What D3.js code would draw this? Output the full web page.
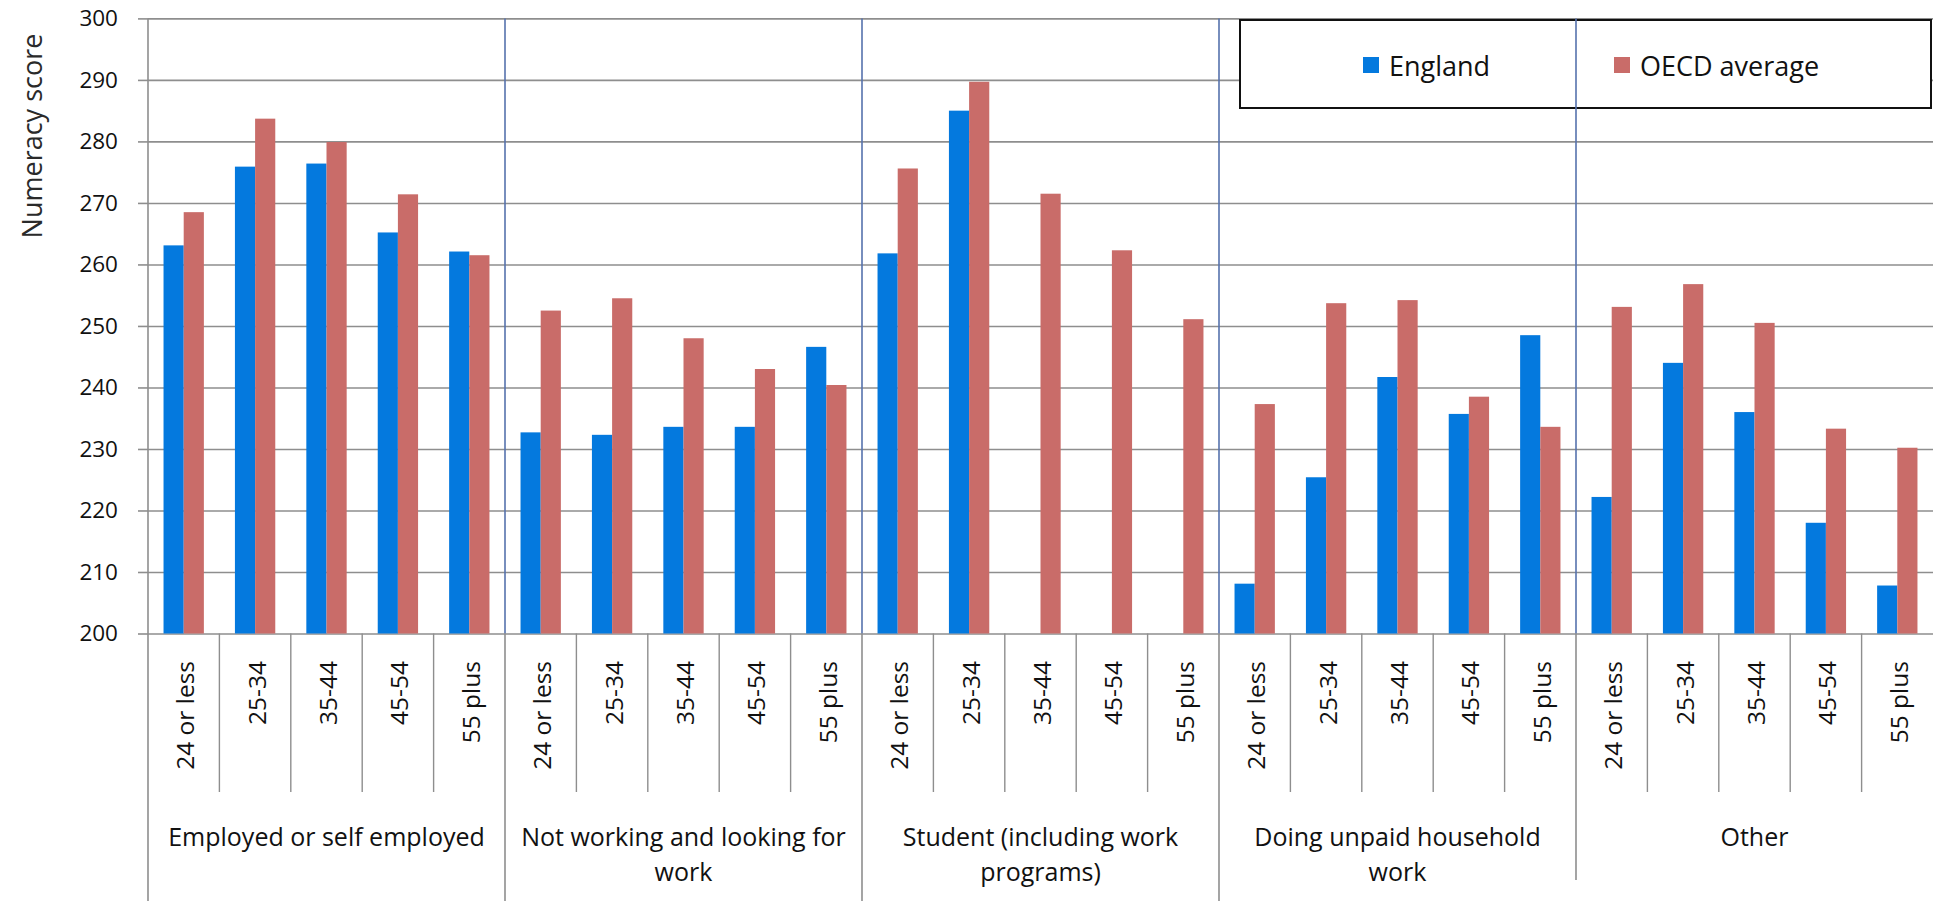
<!DOCTYPE html>
<html>
<head>
<meta charset="utf-8">
<script src="https://cdn.jsdelivr.net/npm/d3@7/dist/d3.min.js"></script>
<style>
  html, body { margin: 0; padding: 0; background: #ffffff; }
  svg { display: block; font-family: "Open Sans", "Noto Sans", sans-serif; }
</style>
</head>
<body>
<svg id="chart" width="1933" height="901"></svg>
<script>
// Employment status groups (label lines as wrapped under the axis)
const groupLines = [
  ["Employed or self employed"],
  ["Not working and looking for", "work"],
  ["Student (including work", "programs)"],
  ["Doing unpaid household", "work"],
  ["Other"]
];
const ageBands = ["24 or less", "25-34", "35-44", "45-54", "55 plus"];
const seriesNames = ["England", "OECD average"];

// Mean numeracy score, in group order then age band order
const england = [
  263.1, 275.9, 276.4, 265.2, 262.1,
  232.7, 232.3, 233.6, 233.6, 246.6,
  261.8, 285.0, null, null, null,
  208.1, 225.4, 241.7, 235.7, 248.5,
  222.2, 244.0, 236.0, 218.0, 207.8
];
const oecdAverage = [
  268.5, 283.7, 279.9, 271.4, 261.5,
  252.5, 254.5, 248.0, 243.0, 240.4,
  275.6, 289.7, 271.5, 262.3, 251.1,
  237.3, 253.7, 254.2, 238.5, 233.6,
  253.1, 256.8, 250.5, 233.3, 230.2
];
const yTicks = [200, 210, 220, 230, 240, 250, 260, 270, 280, 290, 300];
const yTitle = "Numeracy score";

const colors = { "England": "#0479DE", "OECD average": "#C96C69" };
const gridColor = "#8e8e8e";
const sepColor = "#5672ad";
const textColor = "#111111";

const svg = d3.select("#chart");
const W = 1933, H = 901;
const plotLeft = 148, plotRight = 1933, plotTop = 18.4, plotBottom = 633.5;

// Flatten into one row per age band within a group
const rows = [];
groupLines.forEach((g, gi) => {
  ageBands.forEach((a, ai) => {
    const i = gi * ageBands.length + ai;
    rows.push({ key: gi + "|" + a, group: gi, age: a,
      values: [ { s: "England", v: england[i] }, { s: "OECD average", v: oecdAverage[i] } ] });
  });
});

const x0 = d3.scaleBand().domain(rows.map(r => r.key)).range([plotLeft, plotRight]).padding(0);
const x1 = d3.scaleBand().domain(seriesNames).range([0, x0.bandwidth()])
  .paddingInner(0).paddingOuter(0.77);
const y = d3.scaleLinear().domain([200, 300]).range([plotBottom, plotTop]);

// Horizontal gridlines
svg.append("g")
  .attr("transform", `translate(${plotLeft},0)`)
  .call(d3.axisLeft(y).tickValues(yTicks).tickSize(-(plotRight - plotLeft)).tickFormat(""))
  .call(g => g.select(".domain").remove())
  .call(g => g.selectAll(".tick line").attr("stroke", gridColor).attr("stroke-width", 1.6));

// Y axis ticks and labels
svg.append("g")
  .attr("transform", `translate(${plotLeft},0)`)
  .call(d3.axisLeft(y).tickValues(yTicks).tickSize(10).tickPadding(20).tickFormat(d3.format("d")))
  .call(g => g.select(".domain").remove())
  .call(g => g.selectAll(".tick line").attr("stroke", gridColor).attr("stroke-width", 1.6))
  .call(g => g.selectAll(".tick text")
    .attr("fill", textColor)
    .style("font-size", "22.5px")
    .style("font-family", "'Open Sans', sans-serif"));

// Y axis line running down through the category label area
svg.append("line")
  .attr("x1", plotLeft).attr("x2", plotLeft).attr("y1", plotTop).attr("y2", H)
  .attr("stroke", gridColor).attr("stroke-width", 1.6);

// Y axis title
svg.append("text")
  .attr("transform", `translate(31,136) rotate(-90)`)
  .attr("text-anchor", "middle")
  .attr("dominant-baseline", "central")
  .attr("fill", "#2a2a2a")
  .style("font-size", "27px")
  .text(yTitle);

// Bars
const cat = svg.append("g").selectAll("g").data(rows).join("g")
  .attr("transform", d => `translate(${x0(d.key)},0)`);
cat.selectAll("rect")
  .data(d => d.values.filter(v => v.v != null))
  .join("rect")
  .attr("x", d => x1(d.s))
  .attr("width", x1.bandwidth())
  .attr("y", d => y(d.v))
  .attr("height", d => y(200) - y(d.v))
  .attr("fill", d => colors[d.s]);

// Category labels, rotated
cat.append("text")
  .attr("transform", d => `translate(${x0.bandwidth() / 2 + 1},661) rotate(-90)`)
  .attr("text-anchor", "end")
  .attr("dominant-baseline", "central")
  .attr("fill", textColor)
  .style("font-size", "24.5px")
  .text(d => d.age);

// Separators between age bands below the axis
rows.forEach((r, i) => {
  if (i % ageBands.length === 0) return;
  svg.append("line")
    .attr("x1", x0(r.key)).attr("x2", x0(r.key))
    .attr("y1", plotBottom).attr("y2", 792)
    .attr("stroke", gridColor).attr("stroke-width", 1.4);
});

// Group labels
const groupWidth = x0.bandwidth() * ageBands.length;
groupLines.forEach((lines, gi) => {
  const cx = plotLeft + groupWidth * (gi + 0.5);
  const t = svg.append("text")
    .attr("text-anchor", "middle")
    .attr("fill", textColor)
    .style("font-size", "25px");
  lines.forEach((ln, li) => {
    t.append("tspan").attr("x", cx).attr("y", 846 + li * 35).text(ln);
  });
});

// Legend
const legend = svg.append("g");
legend.append("rect")
  .attr("x", 1240).attr("y", 20).attr("width", 691).attr("height", 88)
  .attr("fill", "#ffffff").attr("stroke", "#111").attr("stroke-width", 2);
const legendX = { "England": 1363, "OECD average": 1614 };
seriesNames.forEach(s => {
  legend.append("rect")
    .attr("x", legendX[s]).attr("y", 57).attr("width", 16).attr("height", 16)
    .attr("fill", colors[s]);
  legend.append("text")
    .attr("x", legendX[s] + 26).attr("y", 65)
    .attr("dominant-baseline", "central")
    .attr("fill", textColor)
    .style("font-size", "27px")
    .text(s);
});

// Group separators: blue inside the plot, grey below the axis
groupLines.forEach((lines, gi) => {
  if (gi === 0) return;
  const gx = plotLeft + groupWidth * gi;
  svg.append("line")
    .attr("x1", gx).attr("x2", gx).attr("y1", plotTop).attr("y2", plotBottom)
    .attr("stroke", sepColor).attr("stroke-width", 1.6);
  svg.append("line")
    .attr("x1", gx).attr("x2", gx).attr("y1", plotBottom)
    .attr("y2", gi === groupLines.length - 1 ? 880 : H)
    .attr("stroke", gridColor).attr("stroke-width", 1.6);
});
</script>
</body>
</html>
